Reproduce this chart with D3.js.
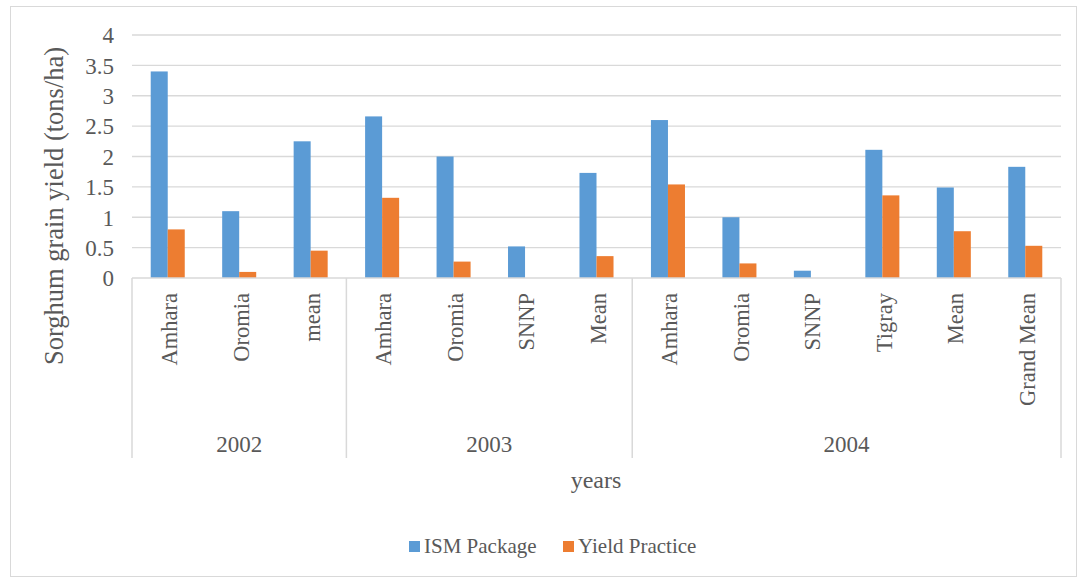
<!DOCTYPE html>
<html>
<head>
<meta charset="utf-8">
<script src="https://cdn.jsdelivr.net/npm/d3@7"></script>
<style>
  html, body { margin: 0; padding: 0; background: #fff; }
  svg { display: block; }
  svg text { font-family: "Liberation Serif", "Times New Roman", serif !important; fill: #595959; }
</style>
</head>
<body>
<svg id="chart" width="1079" height="580"></svg>
<script>
// Sorghum grain yield by region and year
const years = ["2002", "2003", "2004"];
const regions = [
  ["Amhara", "Oromia", "mean"],
  ["Amhara", "Oromia", "SNNP", "Mean"],
  ["Amhara", "Oromia", "SNNP", "Tigray", "Mean", "Grand Mean"]
];
const ismPackage    = [3.4, 1.1, 2.25, 2.66, 2.0, 0.52, 1.73, 2.6, 1.0, 0.12, 2.11, 1.49, 1.83];
const yieldPractice = [0.8, 0.1, 0.45, 1.32, 0.27, 0, 0.36, 1.54, 0.24, 0, 1.36, 0.77, 0.53];
const seriesNames = ["ISM Package", "Yield Practice"];
const seriesColors = ["#5B9BD5", "#ED7D31"];
const yTicks = [0, 0.5, 1, 1.5, 2, 2.5, 3, 3.5, 4];

const serif = "'Liberation Serif', 'Times New Roman', serif";

// flatten categories into one row per bar group
const rows = [];
regions.forEach((list, yi) => list.forEach(name => {
  const i = rows.length;
  rows.push({ id: i, year: years[yi], name, values: [ismPackage[i], yieldPractice[i]] });
}));

const svg = d3.select("#chart");
const gridColor = "#d9d9d9";

// outer chart frame
svg.append("rect")
  .attr("x", 10.5).attr("y", 6.5).attr("width", 1066).attr("height", 570)
  .attr("fill", "none").attr("stroke", gridColor).attr("stroke-width", 1);

const plot = { left: 132, right: 1061, top: 35, bottom: 278 };

const x0 = d3.scaleBand().domain(rows.map(d => d.id)).range([plot.left, plot.right]).padding(0);
const x1 = d3.scaleBand().domain([0, 1]).range([0, x0.bandwidth()]).paddingInner(0).paddingOuter(1.1);
const y = d3.scaleLinear().domain([0, 4]).range([plot.bottom, plot.top]);

// horizontal gridlines
svg.append("g").selectAll("line").data(yTicks.filter(t => t > 0)).join("line")
  .attr("x1", plot.left).attr("x2", plot.right)
  .attr("y1", d => y(d)).attr("y2", d => y(d))
  .attr("stroke", gridColor).attr("stroke-width", 1.3);

// y axis tick labels
const yAxis = d3.axisLeft(y).tickValues(yTicks).tickSize(0).tickPadding(0)
  .tickFormat(d => d3.format("~g")(d));
const yg = svg.append("g").attr("transform", `translate(${plot.left - 18},0)`).call(yAxis)
  .attr("font-family", null);
yg.select(".domain").remove();
yg.selectAll("text").attr("dy", "0.34em")
  .style("font-family", serif).style("font-size", "23px").style("fill", "#595959");

// bars
const groups = svg.append("g").selectAll("g").data(rows).join("g")
  .attr("transform", d => `translate(${x0(d.id)},0)`);
groups.selectAll("rect").data(d => d.values.map((v, k) => ({ v, k }))).join("rect")
  .attr("x", d => x1(d.k)).attr("width", x1.bandwidth())
  .attr("y", d => y(d.v)).attr("height", d => y(0) - y(d.v))
  .attr("fill", d => seriesColors[d.k]);

// category axis: baseline and group dividers
const axisBottom = 458;
svg.append("line")
  .attr("x1", plot.left).attr("x2", plot.right)
  .attr("y1", plot.bottom).attr("y2", plot.bottom)
  .attr("stroke", gridColor).attr("stroke-width", 1.5);

const bounds = [];
let start = 0;
regions.forEach((list, yi) => {
  bounds.push({ year: years[yi], first: start, last: start + list.length - 1 });
  start += list.length;
});
const dividerX = [plot.left].concat(bounds.map(b => x0(b.last) + x0.bandwidth()));
svg.append("g").selectAll("line").data(dividerX).join("line")
  .attr("x1", d => d).attr("x2", d => d)
  .attr("y1", plot.bottom).attr("y2", axisBottom)
  .attr("stroke", gridColor).attr("stroke-width", 1.5);

// region labels, vertical
svg.append("g").selectAll("text").data(rows).join("text")
  .attr("transform", d => `translate(${x0(d.id) + x0.bandwidth() / 2 + 1.5},293) rotate(-90)`)
  .attr("text-anchor", "end").attr("dy", "0.35em")
  .style("font-family", serif).style("font-size", "22.5px")
  .text(d => d.name);

// year labels
svg.append("g").selectAll("text").data(bounds).join("text")
  .attr("x", d => (x0(d.first) + x0(d.last) + x0.bandwidth()) / 2)
  .attr("y", 452)
  .attr("text-anchor", "middle")
  .style("font-family", serif).style("font-size", "23px")
  .text(d => d.year);

// axis titles
svg.append("text")
  .attr("x", 596).attr("y", 488).attr("text-anchor", "middle")
  .style("font-family", serif).style("font-size", "24px")
  .text("years");

svg.append("text")
  .attr("transform", "translate(63,206) rotate(-90)")
  .attr("text-anchor", "middle")
  .style("font-family", serif).style("font-size", "26.5px")
  .text("Sorghum grain yield (tons/ha)");

// legend
const legendX = [409, 563];
const legend = svg.append("g").selectAll("g").data(seriesNames).join("g")
  .attr("transform", (d, i) => `translate(${legendX[i]},541)`);
legend.append("rect").attr("width", 11).attr("height", 11)
  .attr("fill", (d, i) => seriesColors[i]);
legend.append("text").attr("x", 15).attr("y", 12)
  .style("font-family", serif).style("font-size", "21px")
  .text(d => d);
</script>
</body>
</html>
